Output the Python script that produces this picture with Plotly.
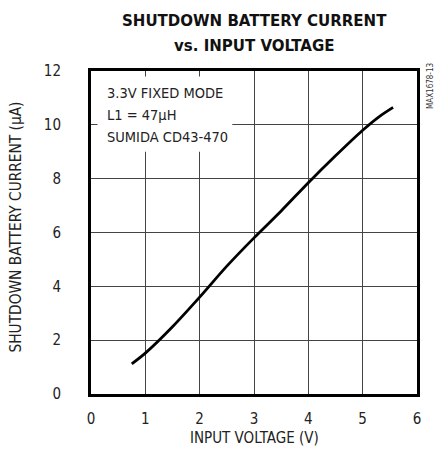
import plotly.graph_objects as go

# Data
input_voltage = [0.75, 1.0, 1.5, 2.0, 2.5, 3.0, 3.5, 4.0, 4.5, 5.0, 5.3, 5.56]
battery_current = [1.12, 1.52, 2.5, 3.6, 4.75, 5.8, 6.8, 7.85, 8.85, 9.8, 10.3, 10.65]

x_ticks = [0, 1, 2, 3, 4, 5, 6]
y_ticks = [0, 2, 4, 6, 8, 10, 12]

title_lines = ["SHUTDOWN BATTERY CURRENT", "vs. INPUT VOLTAGE"]
x_title = "INPUT VOLTAGE (V)"
y_title = "SHUTDOWN BATTERY CURRENT (µA)"
note_lines = ["3.3V FIXED MODE", "L1 = 47µH", "SUMIDA CD43-470"]
side_label = "MAX1678-13"

NARROW = "DejaVu Sans Condensed, Liberation Sans Narrow, sans-serif"

fig = go.Figure()
fig.add_trace(go.Scatter(
    x=input_voltage, y=battery_current, mode="lines",
    line=dict(color="black", width=2.8, shape="spline", smoothing=0.8),
    showlegend=False, hoverinfo="skip",
))

fig.update_layout(
    width=434, height=455,
    margin=dict(l=91, r=17, t=71, b=61),
    paper_bgcolor="white", plot_bgcolor="white",
    font=dict(family=NARROW, size=15, color="#222"),
    xaxis=dict(range=[0, 6], tickvals=x_ticks, ticktext=[str(v) for v in x_ticks],
               showgrid=True, gridcolor="#444", gridwidth=1,
               showline=True, linecolor="black", linewidth=3, mirror=True,
               zeroline=False, ticks="", ticklabelstandoff=9, automargin=False,
               tickfont=dict(size=15)),
    yaxis=dict(range=[0, 12], tickvals=y_ticks, ticktext=[str(v) for v in y_ticks],
               showgrid=True, gridcolor="#444", gridwidth=1,
               showline=True, linecolor="black", linewidth=3, mirror=True,
               zeroline=False, ticks="", ticklabelstandoff=24, automargin=False,
               tickfont=dict(size=15)),
)

# axis titles as annotations for exact placement
fig.add_annotation(x=0.5, y=0.0, xref="paper", yref="paper", yshift=-44,
                   text=x_title, showarrow=False, xanchor="center", yanchor="middle",
                   font=dict(family=NARROW, size=15, color="#222"))
fig.add_annotation(x=0.0, y=0.5, xref="paper", yref="paper", xshift=-76, yshift=5,
                   text=y_title, showarrow=False, textangle=-90,
                   xanchor="center", yanchor="middle",
                   font=dict(family=NARROW, size=15.3, color="#222"))

# title as centered annotations
fig.add_annotation(x=0.5, y=1.0, xref="paper", yref="paper", yshift=51,
                   text="<b>" + title_lines[0] + "</b>", showarrow=False,
                   xanchor="center", yanchor="middle",
                   font=dict(family=NARROW, size=16.7, color="#111"))
fig.add_annotation(x=0.5, y=1.0, xref="paper", yref="paper", yshift=26,
                   text="<b>" + title_lines[1] + "</b>", showarrow=False,
                   xanchor="center", yanchor="middle",
                   font=dict(family=NARROW, size=16.7, color="#111"))

# white box behind the note text (interrupts gridlines)
fig.add_shape(type="rect", xref="x", yref="y", x0=0.12, x1=2.6, y0=9.0, y1=11.8,
              fillcolor="white", line=dict(width=0), layer="above")
for i, line in enumerate(note_lines):
    fig.add_annotation(x=0.0, y=1.0, xref="paper", yref="paper", xshift=14,
                       yshift=-22 - 22 * i, xanchor="left", yanchor="middle",
                       text=line, showarrow=False, align="left",
                       font=dict(family=NARROW, size=14.5, color="#222"))

fig.add_annotation(x=1.0, y=1.0, xref="paper", yref="paper", xshift=13, yshift=-15,
                   text=side_label, textangle=-90, showarrow=False,
                   xanchor="center", yanchor="middle",
                   font=dict(family=NARROW, size=8, color="#333"))

fig.write_html("out.html", config={"displayModeBar": False},
               post_script="document.body.style.margin='0';")
